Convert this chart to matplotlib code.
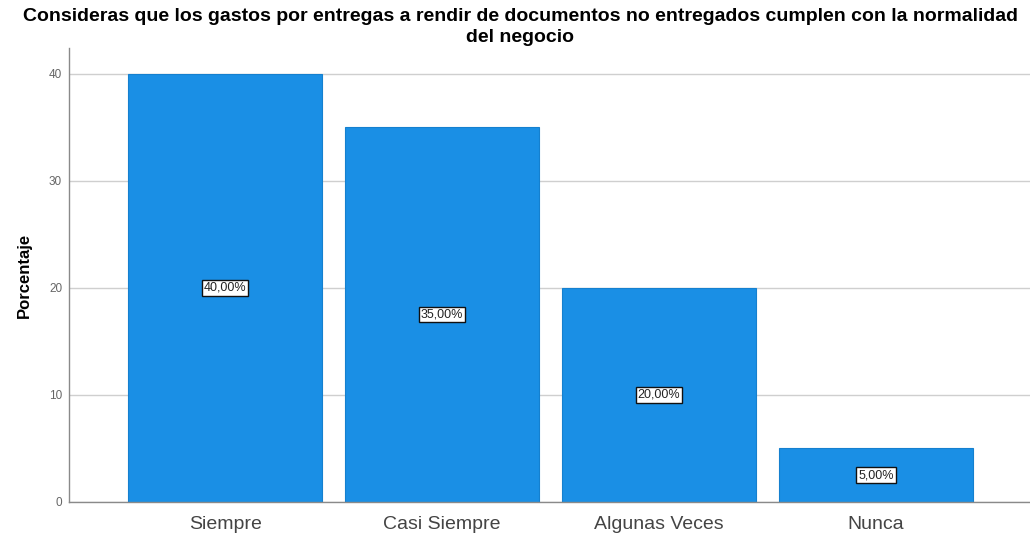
#!/usr/bin/env python3

"""
Bar chart of survey answers (percentage per category).
"""

import matplotlib.pyplot as plt

#data
categories = ['Siempre', 'Casi Siempre', 'Algunas Veces', 'Nunca']
percentages = [40.0, 35.0, 20.0, 5.0]
yticks = [0, 10, 20, 30, 40]

TITLE = ('Consideras que los gastos por entregas a rendir de documentos '
         'no entregados cumplen con la normalidad\ndel negocio')
BLUE = '#1a8fe5'


def main():
    plt.rcParams['font.family'] = ['Liberation Sans', 'DejaVu Sans']

    fig = plt.figure(figsize=(10.3, 5.35), dpi=100)
    ax = fig.add_axes([0.067, 0.062, 0.933, 0.848])

    x = list(range(len(categories)))
    ax.bar(x, percentages, width=0.894, color=BLUE, edgecolor='#1580cf',
           lw=0.8, zorder=2)

    #value labels in the middle of each bar
    for xi, val in zip(x, percentages):
        txt = f'{val:.2f}'.replace('.', ',') + '%'
        ax.text(xi, val / 2, txt, ha='center', va='center', fontsize=9,
                color='#222222', zorder=3,
                bbox=dict(boxstyle='square,pad=0.15', fc='white',
                          ec='#111111', lw=1.0))

    ax.set_xlim(-0.72, 3.71)
    ax.set_ylim(0, 42.4)
    ax.set_yticks(yticks)
    ax.yaxis.grid(True, color='#cfcfcf', lw=1.0, zorder=0)
    ax.set_xticks(x)
    ax.set_xticklabels(categories, fontsize=14, color='#444444')
    ax.tick_params(axis='x', length=0, pad=10)
    ax.tick_params(axis='y', length=0, pad=5, labelsize=8.5,
                   labelcolor='#666666')

    for side in ['top', 'right']:
        ax.spines[side].set_visible(False)
    for side in ['left', 'bottom']:
        ax.spines[side].set_color('#8a8a8a')
        ax.spines[side].set_linewidth(1.0)

    ax.set_ylabel('Porcentaje', fontsize=12, fontweight='bold',
                  labelpad=12)
    fig.text(0.505, 0.985, TITLE, ha='center', va='top', fontsize=14,
             fontweight='bold', linespacing=1.3)

    fig.savefig('out.png', dpi=100)


if __name__ == '__main__':
    main()
